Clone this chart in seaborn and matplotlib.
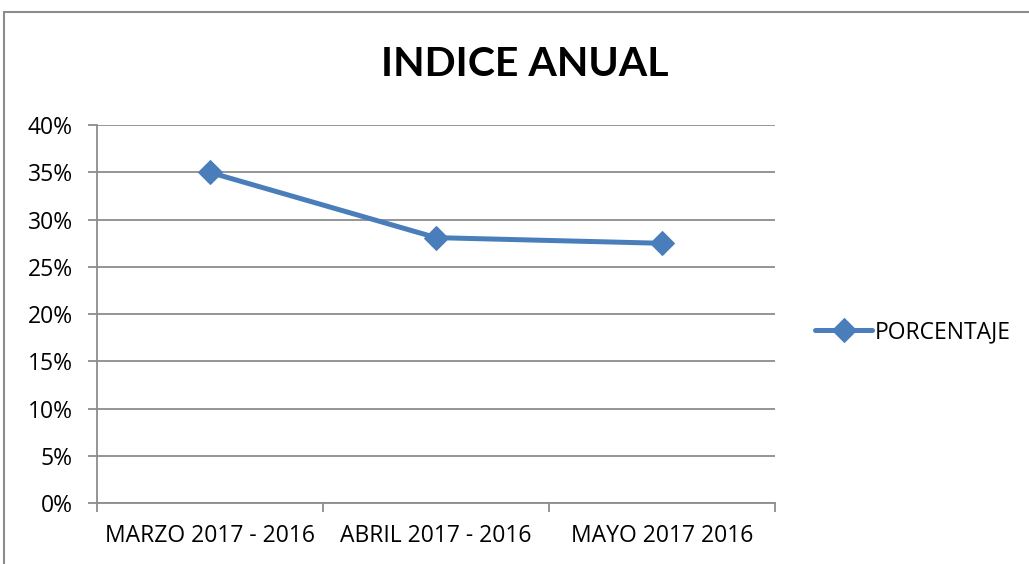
import numpy as np
import pandas as pd
import matplotlib
matplotlib.use("Agg")
import matplotlib.pyplot as plt
from matplotlib.lines import Line2D
from matplotlib.ticker import FixedLocator, PercentFormatter
import seaborn as sns

# Data
periodos = ["MARZO 2017 - 2016", "ABRIL 2017 - 2016", "MAYO 2017 2016"]
porcentaje = [0.350, 0.281, 0.275]
serie = "PORCENTAJE"
titulo = "INDICE ANUAL"

LINE_COLOR = "#4A7EBB"
GRID_COLOR = "#8C8C8C"
FS = 16.5

sns.set_theme(style="white")
plt.rcParams["font.family"] = ["Open Sans", "DejaVu Sans"]
plt.rcParams["text.color"] = "black"

df = pd.DataFrame({"periodo": periodos, "valor": porcentaje})

fig = plt.figure(figsize=(10.29, 5.64), dpi=100)
ax = fig.add_axes([0.0943, 0.108, 0.6589, 0.670])

sns.lineplot(
    data=df, x="periodo", y="valor", sort=False,
    color=LINE_COLOR, linewidth=3.6, marker="D", markersize=12,
    markeredgecolor=LINE_COLOR, label=serie, ax=ax,
)

# y axis: 0% to 40%, gridlines every 5%
ax.set_ylim(0, 0.40)
ax.set_yticks(np.arange(0, 0.401, 0.05))
ax.yaxis.set_major_formatter(PercentFormatter(1.0, decimals=0))
ax.grid(axis="y", color=GRID_COLOR, linewidth=1.3)
ax.set_axisbelow(True)

# x axis: category labels centred, tick marks between categories
ax.set_xlim(-0.5, len(periodos) - 0.5)
ax.xaxis.set_major_locator(FixedLocator(np.arange(-0.5, len(periodos), 1.0)))
ax.xaxis.set_minor_locator(FixedLocator(np.arange(len(periodos))))
ax.set_xticklabels([""] * (len(periodos) + 1))
ax.set_xticklabels(periodos, minor=True)
ax.tick_params(axis="x", which="major", direction="out", length=6.5,
               width=1.3, color=GRID_COLOR, bottom=True)
ax.tick_params(axis="x", which="minor", length=0, pad=15, labelsize=FS,
               labelcolor="black")
ax.tick_params(axis="y", direction="out", length=6.5, width=1.3,
               color=GRID_COLOR, left=True, pad=11, labelsize=FS,
               labelcolor="black")

for side in ["top", "right"]:
    ax.spines[side].set_visible(False)
for side in ["left", "bottom"]:
    ax.spines[side].set_color(GRID_COLOR)
    ax.spines[side].set_linewidth(1.3)

ax.set_xlabel("")
ax.set_ylabel("")

fig.text(0.51, 0.885, titulo, ha="center", va="center", color="black",
         fontsize=29.5, fontweight="bold", family=["Lato", "DejaVu Sans"])

leg = ax.legend(loc="center left", bbox_to_anchor=(0.783, 0.411),
                bbox_transform=fig.transFigure, frameon=False, fontsize=FS,
                handlelength=2.5, handletextpad=0.12, borderaxespad=0)
for t in leg.get_texts():
    t.set_color("black")

# chart frame (top and left edges visible in the crop)
frame_kw = dict(color=GRID_COLOR, linewidth=1.5, transform=fig.transFigure)
fig.add_artist(Line2D([0.004, 1.0], [1 - 12 / 564] * 2, **frame_kw))
fig.add_artist(Line2D([0.004, 0.004], [0.0, 1 - 12 / 564], **frame_kw))

fig.savefig("out.png", dpi=100)
